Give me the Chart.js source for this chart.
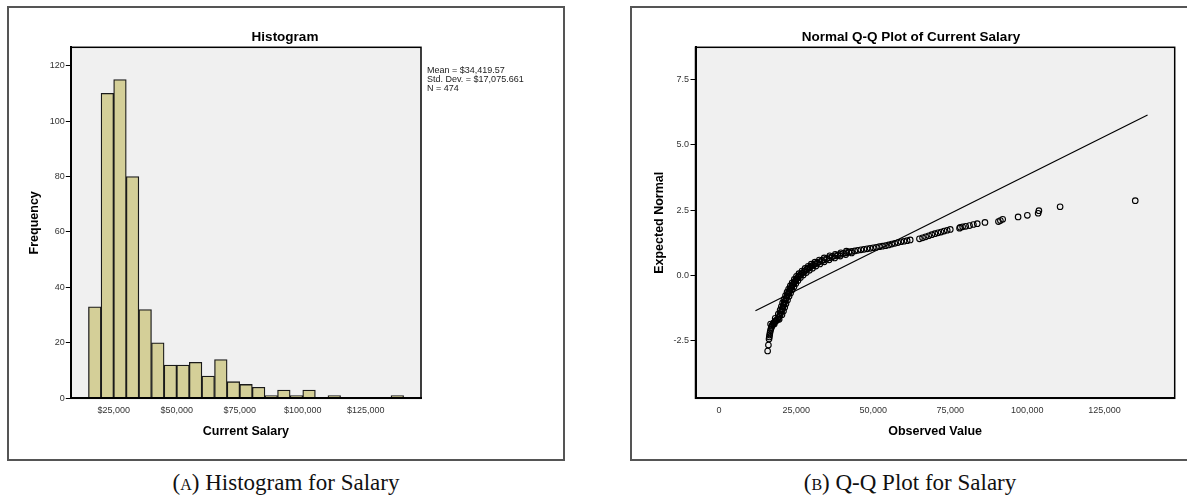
<!DOCTYPE html>
<html>
<head>
<meta charset="utf-8">
<title>Current Salary</title>
<script src="https://cdn.jsdelivr.net/npm/chart.js@4.4.1/dist/chart.umd.min.js"></script>
<style>
  body { margin: 0; background: #fff; width: 1187px; height: 496px; overflow: hidden; position: relative;
         font-family: "Liberation Sans", Arial, sans-serif; }
  .panel { position: absolute; top: 6px; height: 455px; border: 2px solid #555; box-sizing: border-box; }
  canvas { position: absolute; top: 0; }
  .title { position: absolute; top: 29px; font-size: 13.5px; font-weight: bold; line-height: 16px;
           transform: translateX(-50%); white-space: nowrap; color: #000; }
  .stats { position: absolute; left: 427px; top: 65.5px; font-size: 9px; line-height: 9.4px; color: #222; white-space: nowrap; }
  .caption { position: absolute; top: 470px; font-family: "Liberation Serif", serif; font-size: 23px; line-height: 26px;
             transform: translateX(-50%); white-space: nowrap; color: #111; }
  .sc { font-variant: small-caps; }
</style>
</head>
<body>
<div class="panel" style="left:7px; width:558px;"></div>
<div class="panel" style="left:630px; width:600px;"></div>

<canvas id="hist" width="565" height="462" style="left:0px"></canvas>
<canvas id="qq" width="587" height="462" style="left:600px"></canvas>

<div class="title" style="left:285px">Histogram</div>
<div class="title" style="left:911px">Normal Q-Q Plot of Current Salary</div>
<div class="stats">Mean = $34,419.57<br>Std. Dev. = $17,075.661<br>N = 474</div>
<div class="caption" style="left:286px">(<span class="sc">a</span>) Histogram for Salary</div>
<div class="caption" style="left:910px">(<span class="sc">b</span>) Q-Q Plot for Salary</div>

<script>
// histogram: $5,000 bins, midpoints and counts
const binMid = [17500, 22500, 27500, 32500, 37500, 42500, 47500, 52500, 57500, 62500, 67500, 72500, 77500,
                82500, 87500, 92500, 97500, 102500, 107500, 112500, 117500, 122500, 127500, 132500, 137500];
const binCount = [33, 110, 115, 80, 32, 20, 12, 12, 13, 8, 14, 6, 5, 4, 1, 3, 1, 3, 0, 1, 0, 0, 0, 0, 1];
const histXTicks = [25000, 50000, 75000, 100000, 125000];
const histXLabels = ['$25,000', '$50,000', '$75,000', '$100,000', '$125,000'];
const histYTicks = [0, 20, 40, 60, 80, 100, 120];

// normal Q-Q: observed salary vs expected normal value
const qqObserved = [15750, 16000, 16200, 16300, 16400, 16500, 16650, 16800, 16950, 17100, 17300, 17550, 17800,
  18100, 18400, 18700, 19000, 19300, 19550, 19800, 20050, 20300, 20500, 20700, 20900, 21100, 21300, 21550,
  21800, 22050, 22300, 22550, 22800, 23050, 23300, 23600, 23900, 24200, 24550, 24900, 25250, 25650, 26050,
  26500, 27000, 27500, 28000, 28500, 29000, 29500, 30000, 30600, 31200, 31900, 32600, 33300, 34100, 34900,
  35800, 36700, 37600, 38500, 39400, 40300, 41200, 42100, 43000, 44000, 45000, 46000, 47000, 48000, 49000,
  50000, 51000, 52000, 53000, 54000, 55000, 56000, 57000, 58000, 59000, 60000, 61000, 62000, 65000, 66000,
  67000, 68000, 69000, 70000, 71000, 72000, 73000, 74000, 75000, 78000, 78250, 79000, 80000, 81250, 82500,
  83750, 86250, 90625, 91250, 92000, 97000, 100000, 103500, 103750, 110625, 135000,
  // lower edge of the dense band
  17900, 19500, 20400, 20900, 21300, 21700, 22200, 22700, 23200, 23700, 24300, 24900, 25600, 26400, 27300,
  28300, 29300, 30300, 31400, 32700, 34100, 35700, 37500, 39300, 41100, 43000,
  // upper edge of the dense band
  16700, 18200, 19200, 19800, 20200, 20600, 21050, 21550, 22050, 22550, 23100, 23700, 24400, 25100, 25900,
  26900, 27900, 28900, 29900, 31100, 32500, 34100, 35900, 37700, 39500, 41300];
const qqExpected = [-2.89, -2.66, -2.43, -2.35, -2.28, -2.20, -2.12, -2.05, -1.99, -1.94, -1.89, -1.84, -1.80,
  -1.77, -1.74, -1.71, -1.67, -1.62, -1.56, -1.49, -1.42, -1.35, -1.28, -1.21, -1.14, -1.07, -1.00, -0.93,
  -0.86, -0.79, -0.72, -0.66, -0.60, -0.54, -0.48, -0.42, -0.36, -0.30, -0.24, -0.18, -0.12, -0.06, -0.01,
  0.04, 0.09, 0.14, 0.19, 0.24, 0.28, 0.32, 0.36, 0.40, 0.44, 0.48, 0.52, 0.56, 0.60, 0.64,
  0.68, 0.72, 0.75, 0.78, 0.81, 0.84, 0.87, 0.90, 0.92, 0.94, 0.96, 0.98, 1.00, 1.02, 1.04,
  1.06, 1.08, 1.10, 1.12, 1.14, 1.17, 1.20, 1.23, 1.26, 1.29, 1.31, 1.33, 1.36, 1.40, 1.44,
  1.48, 1.52, 1.56, 1.60, 1.63, 1.66, 1.70, 1.73, 1.76, 1.81, 1.84, 1.86, 1.88, 1.91, 1.95,
  1.98, 2.03, 2.06, 2.10, 2.15, 2.24, 2.30, 2.38, 2.48, 2.63, 2.86,
  -1.86, -1.68, -1.50, -1.36, -1.22, -1.08, -0.94, -0.80, -0.67, -0.55, -0.43, -0.31, -0.19, -0.08, 0.02,
  0.11, 0.20, 0.28, 0.36, 0.44, 0.52, 0.60, 0.67, 0.74, 0.80, 0.86,
  -1.86, -1.64, -1.48, -1.33, -1.19, -1.05, -0.91, -0.77, -0.64, -0.52, -0.40, -0.28, -0.15, -0.03, 0.07,
  0.17, 0.27, 0.35, 0.43, 0.51, 0.59, 0.67, 0.75, 0.81, 0.87, 0.93];
const qqLineX = [11800, 139000];
const qqLineY = [-1.35, 6.14];
const qqXTicks = [0, 25000, 50000, 75000, 100000, 125000];
const qqXLabels = ['0', '25,000', '50,000', '75,000', '100,000', '125,000'];
const qqYTicks = [-2.5, 0, 2.5, 5, 7.5];
const qqYLabels = ['-2.5', '0.0', '2.5', '5.0', '7.5'];

Chart.defaults.font.family = '"Liberation Sans", Arial, sans-serif';
Chart.defaults.color = '#333';

// grey plot background and black frame, like SPSS output
const plotFrame = {
  id: 'plotFrame',
  beforeDraw(chart) {
    const { ctx, chartArea: a } = chart;
    ctx.save();
    ctx.fillStyle = '#f0f0f0';
    ctx.fillRect(a.left, a.top, a.width, a.height);
    ctx.restore();
  },
  afterDraw(chart) {
    const { ctx, chartArea: a } = chart;
    ctx.save();
    ctx.strokeStyle = '#000';
    ctx.lineWidth = 1.5;
    ctx.strokeRect(a.left, a.top, a.width, a.height);
    ctx.restore();
  }
};

const axisTitleFont = { size: 12.5, weight: 'bold' };
const tickFont = { size: 9 };

new Chart(document.getElementById('hist'), {
  type: 'bar',
  data: {
    datasets: [{
      data: binMid.map((m, i) => ({ x: m, y: binCount[i] })),
      backgroundColor: '#d4cf98',
      borderColor: '#1a1a1a',
      borderWidth: 1.3,
      barPercentage: 1,
      categoryPercentage: 1
    }]
  },
  options: {
    responsive: false,
    animation: false,
    events: [],
    layout: { padding: { left: 20, top: 47.3, right: 144, bottom: 0 } },
    plugins: { legend: { display: false }, tooltip: { enabled: false } },
    scales: {
      x: {
        type: 'linear',
        offset: false,
        min: 8000,
        max: 146900,
        afterBuildTicks: s => { s.ticks = histXTicks.map(v => ({ value: v })); },
        afterFit: s => { s.height = 63.7; },
        grid: { display: false, drawTicks: false },
        border: { color: '#000', width: 2, z: 1 },
        ticks: { font: tickFont, padding: 7, maxRotation: 0, callback: (v, i) => histXLabels[i] },
        title: { display: true, text: 'Current Salary', color: '#000', font: axisTitleFont, padding: { top: 0, bottom: 22.8 } }
      },
      y: {
        min: 0,
        max: 126.6,
        afterBuildTicks: s => { s.ticks = histYTicks.map(v => ({ value: v })); },
        afterFit: s => { s.width = 50.8; },
        grid: { drawOnChartArea: false, drawTicks: true, tickLength: 5, color: '#000' },
        border: { color: '#000', width: 2, z: 1 },
        ticks: { font: tickFont, padding: 1 },
        title: { display: true, text: 'Frequency', color: '#000', font: axisTitleFont, padding: { top: 6.9, bottom: 0 } }
      }
    }
  },
  plugins: [plotFrame]
});

new Chart(document.getElementById('qq'), {
  type: 'scatter',
  data: {
    datasets: [{
      data: qqObserved.map((v, i) => ({ x: v, y: qqExpected[i] })),
      pointStyle: 'circle',
      pointRadius: 2.8,
      pointBorderWidth: 1.1,
      pointBorderColor: '#000',
      pointBackgroundColor: 'rgba(0,0,0,0)'
    }, {
      data: qqLineX.map((v, i) => ({ x: v, y: qqLineY[i] })),
      showLine: true,
      borderColor: '#000',
      borderWidth: 1.2,
      pointRadius: 0
    }]
  },
  options: {
    responsive: false,
    animation: false,
    events: [],
    layout: { padding: { left: 20, top: 47.3, right: 12.3, bottom: 0 } },
    plugins: { legend: { display: false }, tooltip: { enabled: false } },
    scales: {
      x: {
        type: 'linear',
        min: -7650,
        max: 147800,
        afterBuildTicks: s => { s.ticks = qqXTicks.map(v => ({ value: v })); },
        afterFit: s => { s.height = 63.7; },
        grid: { display: false, drawTicks: false },
        border: { color: '#000', width: 2, z: 1 },
        ticks: { font: tickFont, padding: 7, maxRotation: 0, callback: (v, i) => qqXLabels[i] },
        title: { display: true, text: 'Observed Value', color: '#000', font: axisTitleFont, padding: { top: 0, bottom: 22.8 } }
      },
      y: {
        min: -4.70,
        max: 8.73,
        afterBuildTicks: s => { s.ticks = qqYTicks.map(v => ({ value: v })); },
        afterFit: s => { s.width = 75.5; },
        grid: { drawOnChartArea: false, drawTicks: true, tickLength: 5, color: '#000' },
        border: { color: '#000', width: 2, z: 1 },
        ticks: { font: tickFont, padding: 1.5, callback: (v, i) => qqYLabels[i] },
        title: { display: true, text: 'Expected Normal', color: '#000', font: axisTitleFont, padding: { top: 32.5, bottom: 0 } }
      }
    }
  },
  plugins: [plotFrame]
});
</script>
</body>
</html>
